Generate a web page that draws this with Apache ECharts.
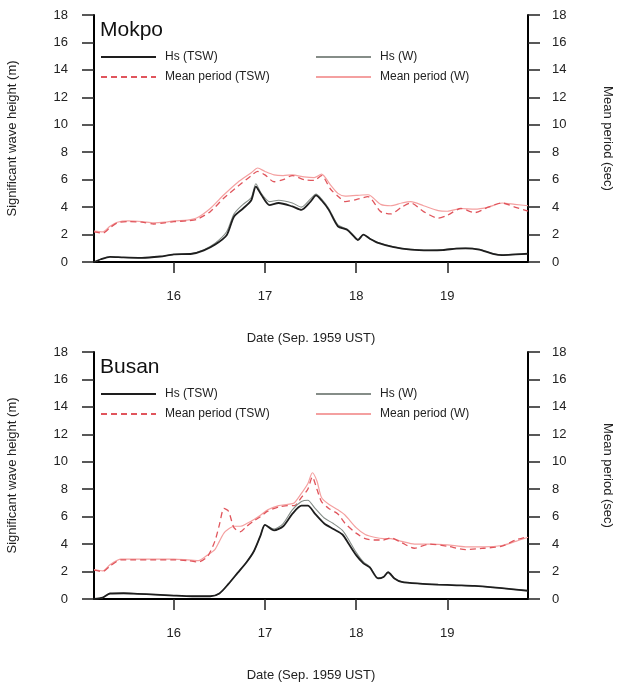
<!DOCTYPE html>
<html>
<head>
<meta charset="utf-8">
<script src="https://cdn.jsdelivr.net/npm/echarts@6/dist/echarts.min.js"></script>
<style>
html,body{margin:0;padding:0;background:#fff;}
#chart{width:619px;height:684px;}
</style>
</head>
<body>
<div id="chart"></div>
<script>
// ---------- Data (days of Sep. 1959, UST) ----------
const xTickLabels = [16, 17, 18, 19];
const yTicks = [0, 2, 4, 6, 8, 10, 12, 14, 16, 18];

// Mokpo significant wave height (m)
const mokpoHsT = [15.13,15.2,15.3,15.45,15.65,15.85,16.0,16.2,16.33,16.45,16.58,16.66,16.76,16.85,16.9,16.96,17.05,17.15,17.3,17.4,17.5,17.56,17.62,17.7,17.8,17.9,17.97,18.02,18.08,18.15,18.25,18.4,18.6,18.8,18.95,19.1,19.2,19.35,19.5,19.6,19.75,19.885];
const mokpoHsTSW = [0.0,0.2,0.38,0.33,0.3,0.4,0.55,0.6,0.85,1.25,1.95,3.3,3.9,4.5,5.5,4.9,4.15,4.3,4.05,3.8,4.4,4.85,4.5,3.8,2.6,2.35,1.9,1.6,2.0,1.7,1.37,1.1,0.9,0.85,0.87,0.98,1.0,0.9,0.6,0.5,0.55,0.6];
const mokpoHsW   = [0.0,0.2,0.38,0.33,0.3,0.4,0.55,0.62,0.9,1.35,2.2,3.5,4.2,4.7,5.7,5.0,4.4,4.5,4.3,4.0,4.6,4.95,4.6,3.9,2.7,2.4,1.95,1.65,2.0,1.7,1.4,1.12,0.92,0.87,0.9,1.0,1.02,0.92,0.62,0.52,0.57,0.62];

// Mokpo mean period (sec)
const mokpoTmT = [15.125,15.22,15.3,15.38,15.5,15.65,15.78,15.9,16.0,16.15,16.25,16.4,16.55,16.7,16.85,16.92,17.0,17.1,17.2,17.3,17.43,17.54,17.62,17.72,17.8,17.88,18.0,18.13,18.27,18.38,18.5,18.6,18.74,18.9,19.0,19.15,19.3,19.45,19.6,19.74,19.885];
const mokpoTmTSW = [2.2,2.1,2.5,2.85,2.95,2.9,2.77,2.85,2.94,3.0,3.1,3.67,4.66,5.5,6.3,6.6,6.35,5.85,6.0,6.3,6.0,5.95,6.3,5.3,4.8,4.4,4.55,4.76,3.67,3.5,4.0,4.3,3.67,3.2,3.4,3.9,3.6,4.0,4.3,4.0,3.7];
const mokpoTmW   = [2.25,2.2,2.6,2.9,3.0,2.95,2.85,2.9,3.0,3.05,3.2,3.9,4.9,5.8,6.5,6.85,6.6,6.35,6.3,6.35,6.2,6.15,6.4,5.6,5.0,4.8,4.85,4.9,4.2,4.1,4.3,4.4,4.1,3.75,3.7,3.9,3.85,4.0,4.3,4.2,4.1];

// Busan significant wave height (m)
const busanHsT = [15.125,15.22,15.3,15.45,15.6,15.8,16.0,16.2,16.4,16.5,16.6,16.7,16.8,16.88,16.95,17.0,17.1,17.2,17.3,17.4,17.47,17.55,17.65,17.75,17.85,17.92,18.0,18.08,18.15,18.24,18.3,18.35,18.42,18.5,18.7,18.9,19.1,19.3,19.5,19.7,19.885];
const busanHsTSW = [0.0,0.1,0.4,0.42,0.38,0.32,0.25,0.2,0.2,0.4,1.1,1.9,2.7,3.5,4.6,5.4,5.0,5.3,6.2,6.8,6.8,6.2,5.5,5.1,4.7,4.0,3.2,2.6,2.3,1.5,1.6,1.95,1.5,1.25,1.12,1.05,1.0,0.95,0.85,0.72,0.6];
const busanHsW   = [0.0,0.1,0.4,0.42,0.38,0.32,0.25,0.2,0.2,0.4,1.1,1.9,2.7,3.5,4.6,5.4,5.1,5.5,6.5,7.1,7.2,6.6,5.9,5.5,5.0,4.3,3.4,2.7,2.35,1.55,1.6,1.95,1.5,1.25,1.12,1.05,1.0,0.95,0.85,0.72,0.6];

// Busan mean period (sec)
const busanTmT = [15.125,15.22,15.3,15.42,15.55,15.8,16.0,16.15,16.27,16.37,16.45,16.5,16.55,16.6,16.66,16.73,16.8,16.88,16.95,17.03,17.15,17.25,17.32,17.4,17.47,17.52,17.57,17.62,17.7,17.8,17.88,18.0,18.1,18.2,18.3,18.38,18.5,18.64,18.8,19.0,19.2,19.4,19.6,19.75,19.885];
const busanTmTSW = [2.1,2.0,2.4,2.85,2.85,2.85,2.85,2.8,2.7,3.1,4.2,5.4,6.6,6.4,5.2,4.9,5.3,5.7,6.0,6.4,6.7,6.8,6.8,7.4,8.0,8.9,8.0,7.1,6.6,6.2,5.5,4.8,4.4,4.3,4.3,4.45,4.1,3.7,4.0,3.85,3.6,3.7,3.85,4.3,4.55];
const busanTmW   = [2.15,2.05,2.5,2.9,2.9,2.9,2.9,2.85,2.8,3.2,3.6,4.2,4.8,5.1,5.3,5.3,5.5,5.8,6.1,6.5,6.8,6.9,7.0,7.7,8.4,9.2,8.6,7.4,6.9,6.5,6.1,5.2,4.7,4.5,4.4,4.4,4.2,4.0,4.0,3.95,3.8,3.8,3.9,4.2,4.5];

const stations = ['Mokpo', 'Busan'];
const seriesNames = ['Hs (TSW)', 'Hs (W)', 'Mean period (TSW)', 'Mean period (W)'];

// ---------- Chart ----------
const FONT = 'Liberation Sans, Arial, sans-serif';
const zip = (t, v) => t.map((x, i) => [x, v[i]]);

const grids = [
  {left: 94, right: 91, top: 15, height: 247, containLabel: false, outerBoundsMode: 'none'},
  {left: 94, right: 91, top: 352, height: 247, containLabel: false, outerBoundsMode: 'none'}
];

const xAxes = grids.map((g, i) => ({
  type: 'value', gridIndex: i, min: 15.125, max: 19.885,
  name: 'Date (Sep. 1959 UST)', nameLocation: 'middle', nameGap: 70,
  nameTextStyle: {fontFamily: FONT, fontSize: 13, color: '#222'},
  axisLine: {show: true, onZero: false, lineStyle: {color: '#000', width: 2}},
  axisTick: {show: true, length: 11, customValues: xTickLabels, lineStyle: {color: '#222', width: 1.5}},
  axisLabel: {customValues: xTickLabels, margin: 28, fontFamily: FONT, fontSize: 13, color: '#222'},
  splitLine: {show: false}
}));

const yAxes = [];
grids.forEach((g, i) => {
  yAxes.push({
    type: 'value', gridIndex: i, position: 'left', min: 0, max: 18, interval: 2,
    name: 'Significant wave height (m)', nameLocation: 'middle', nameGap: 75, nameRotate: 90,
    nameTextStyle: {fontFamily: FONT, fontSize: 13, color: '#222'},
    axisLine: {show: true, lineStyle: {color: '#000', width: 2}},
    axisTick: {show: true, length: 12, lineStyle: {color: '#222', width: 1.5}},
    axisLabel: {margin: 26, fontFamily: FONT, fontSize: 13, color: '#222'},
    splitLine: {show: false}
  });
  yAxes.push({
    type: 'value', gridIndex: i, position: 'right', min: 0, max: 18, interval: 2,
    name: 'Mean period (sec)', nameLocation: 'middle', nameGap: 73, nameRotate: -90,
    nameTextStyle: {fontFamily: FONT, fontSize: 13, color: '#222'},
    axisLine: {show: true, lineStyle: {color: '#000', width: 2}},
    axisTick: {show: true, length: 12, lineStyle: {color: '#222', width: 1.5}},
    axisLabel: {margin: 24, fontFamily: FONT, fontSize: 13, color: '#222'},
    splitLine: {show: false}
  });
});

const panelData = [
  {hsT: mokpoHsT, hsTSW: mokpoHsTSW, hsW: mokpoHsW, tmT: mokpoTmT, tmTSW: mokpoTmTSW, tmW: mokpoTmW},
  {hsT: busanHsT, hsTSW: busanHsTSW, hsW: busanHsW, tmT: busanTmT, tmTSW: busanTmTSW, tmW: busanTmW}
];

const styles = {
  'Hs (TSW)': {color: '#1e1e1e', width: 1.8, type: 'solid'},
  'Hs (W)': {color: '#858d88', width: 1.1, type: 'solid'},
  'Mean period (TSW)': {color: '#e0555c', width: 1.3, type: [6, 4]},
  'Mean period (W)': {color: '#f4a0a0', width: 1.2, type: 'solid'}
};

const series = [];
panelData.forEach((p, i) => {
  const defs = [
    ['Mean period (W)', zip(p.tmT, p.tmW), 2 * i + 1],
    ['Mean period (TSW)', zip(p.tmT, p.tmTSW), 2 * i + 1],
    ['Hs (W)', zip(p.hsT, p.hsW), 2 * i],
    ['Hs (TSW)', zip(p.hsT, p.hsTSW), 2 * i]
  ];
  defs.forEach(([name, data, yIdx]) => {
    const s = styles[name];
    series.push({
      name, type: 'line', xAxisIndex: i, yAxisIndex: yIdx, data,
      showSymbol: false, symbol: 'none', smooth: 0.25, animation: false,
      lineStyle: {color: s.color, width: s.width, type: s.type},
      itemStyle: {color: s.color}
    });
  });
});

const legendBase = {
  orient: 'vertical', itemWidth: 55, itemHeight: 12, itemGap: 8, padding: 0,
  itemStyle: {opacity: 0, borderWidth: 0},
  textStyle: {fontFamily: FONT, fontSize: 12, color: '#222', padding: [0, 0, 0, 4]},
  selectedMode: false
};
const legends = [];
grids.forEach((g, i) => {
  legends.push(Object.assign({}, legendBase, {left: 100, top: g.top + 36, data: ['Hs (TSW)', 'Mean period (TSW)']}));
  legends.push(Object.assign({}, legendBase, {left: 315, top: g.top + 36, data: ['Hs (W)', 'Mean period (W)']}));
});

const titles = stations.map((s, i) => ({
  text: s, left: 100, top: grids[i].top + 5, padding: 0,
  textStyle: {fontFamily: FONT, fontSize: 21, fontWeight: 'normal', color: '#111'}
}));

const chart = echarts.init(document.getElementById('chart'), null, {renderer: 'canvas'});
chart.setOption({
  animation: false,
  backgroundColor: '#fff',
  title: titles,
  legend: legends,
  grid: grids,
  xAxis: xAxes,
  yAxis: yAxes,
  series
});
</script>
</body>
</html>
